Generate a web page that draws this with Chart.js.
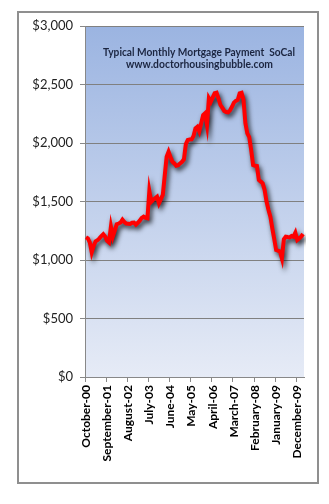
<!DOCTYPE html>
<html>
<head>
<meta charset="utf-8">
<script src="https://cdn.jsdelivr.net/npm/chart.js@4/dist/chart.umd.min.js"></script>
<style>
html,body{margin:0;padding:0;background:#fff;}
#wrap{width:329px;height:504px;position:relative;}
</style>
</head>
<body>
<div id="wrap"><canvas id="c" width="329" height="504"></canvas></div>
<script>
// Monthly data, October 2000 .. March 2010
const monthNames = ["January","February","March","April","May","June","July","August","September","October","November","December"];
const startYear = 2000, startMonth = 9; // October
const payments = [
 1195,1185,1150,1065,1120,1160,1170,1185,1205,1220,
 1200,1165,1150,1285,1200,1250,1305,1312,1320,1345,
 1325,1312,1310,1308,1318,1320,1302,1318,1336,1360,
 1370,1360,1356,1590,1498,1515,1527,1541,1484,1520,
 1556,1720,1883,1926,1880,1840,1825,1805,1810,1826,
 1840,1860,1990,2026,2030,2031,2060,2125,2139,2100,
 2170,2239,2254,2154,2382,2353,2390,2425,2430,2380,
 2325,2300,2274,2265,2262,2280,2310,2345,2360,2368,
 2425,2430,2368,2168,2082,2050,1940,1812,1805,1803,
 1684,1670,1655,1598,1500,1430,1370,1270,1180,1085,
 1080,1071,1014,1177,1199,1196,1194,1205,1199,1233,
 1171,1185,1199,1222
];
const months = payments.map((_, i) => {
  const m = (startMonth + i) % 12;
  const y = startYear + Math.floor((startMonth + i) / 12);
  return monthNames[m] + "-" + String(y % 100).padStart(2, "0");
});
const labelEvery = 11;
const yTicks = [0, 500, 1000, 1500, 2000, 2500, 3000];
const titleLines = ["Typical Monthly Mortgage Payment  SoCal", "www.doctorhousingbubble.com"];

const bgPlugin = {
  id: "bg",
  beforeDraw(chart) {
    const ctx = chart.ctx, a = chart.chartArea;
    ctx.save();
    ctx.fillStyle = "#fff";
    ctx.fillRect(0, 0, chart.width, chart.height);
    ctx.strokeStyle = "#8f8f8f";
    ctx.lineWidth = 2;
    ctx.strokeRect(18, 12, 300, 471);
    const g = ctx.createLinearGradient(0, a.top, 0, a.bottom);
    g.addColorStop(0, "#9bb4e1");
    g.addColorStop(1, "#e6ebf6");
    ctx.fillStyle = g;
    ctx.fillRect(a.left, a.top, a.right - a.left, a.bottom - a.top);
    ctx.restore();
  },
  afterDatasetsDraw(chart) {
    const ctx = chart.ctx;
    ctx.save();
    ctx.fillStyle = "#1b2540";
    ctx.font = "bold 11px Lato";
    ctx.textAlign = "center";
    ctx.textBaseline = "middle";
    ctx.fillText(titleLines[0], 199, 52, 192);
    ctx.fillText(titleLines[1], 199.5, 64.5, 147);
    ctx.restore();
  }
};
const shadowPlugin = {
  id: "shadow",
  beforeDatasetDraw(chart) {
    const ctx = chart.ctx;
    ctx.save();
    ctx.shadowColor = "rgba(0,0,0,0.8)";
    ctx.shadowBlur = 5;
    ctx.shadowOffsetX = 2;
    ctx.shadowOffsetY = 3;
  },
  afterDatasetDraw(chart) { chart.ctx.restore(); }
};

new Chart(document.getElementById("c"), {
  type: "line",
  data: {
    labels: months,
    datasets: [{
      data: payments,
      borderColor: "#ff0000",
      borderWidth: 4,
      pointRadius: 0,
      tension: 0,
      fill: false
    }]
  },
  options: {
    responsive: false,
    animation: false,
    devicePixelRatio: 1,
    layout: { padding: { left: 0, top: 26, right: 25, bottom: 0 } },
    plugins: { legend: { display: false }, tooltip: { enabled: false } },
    scales: {
      x: {
        type: "category",
        offset: true,
        afterFit(s) { s.height = 127; },
        border: { display: true, color: "#888", width: 1 },
        grid: {
          offset: true,
          drawOnChartArea: false,
          drawTicks: true,
          tickLength: 5,
          tickColor: (c) => (c.index % labelEvery === 0 ? "#888" : "rgba(0,0,0,0)")
        },
        ticks: {
          autoSkip: false,
          maxRotation: 90,
          minRotation: 90,
          padding: 3,
          color: "#000",
          font: { family: "Lato", size: 12, weight: "bold" },
          callback(v, i) { return i % labelEvery === 0 ? months[i] : ""; }
        }
      },
      y: {
        min: yTicks[0],
        max: yTicks[yTicks.length - 1],
        afterFit(s) { s.width = 85; },
        afterBuildTicks(s) { s.ticks = yTicks.map(v => ({ value: v })); },
        border: { display: true, color: "#888", width: 1 },
        grid: { color: "#808080", lineWidth: 1, tickLength: 5, tickColor: "#888" },
        ticks: {
          padding: 7,
          color: "#222",
          font: { family: "Lato", size: 13 },
          callback(v) { return "$" + v.toLocaleString("en-US"); }
        }
      }
    }
  },
  plugins: [bgPlugin, shadowPlugin]
});
</script>
</body>
</html>
